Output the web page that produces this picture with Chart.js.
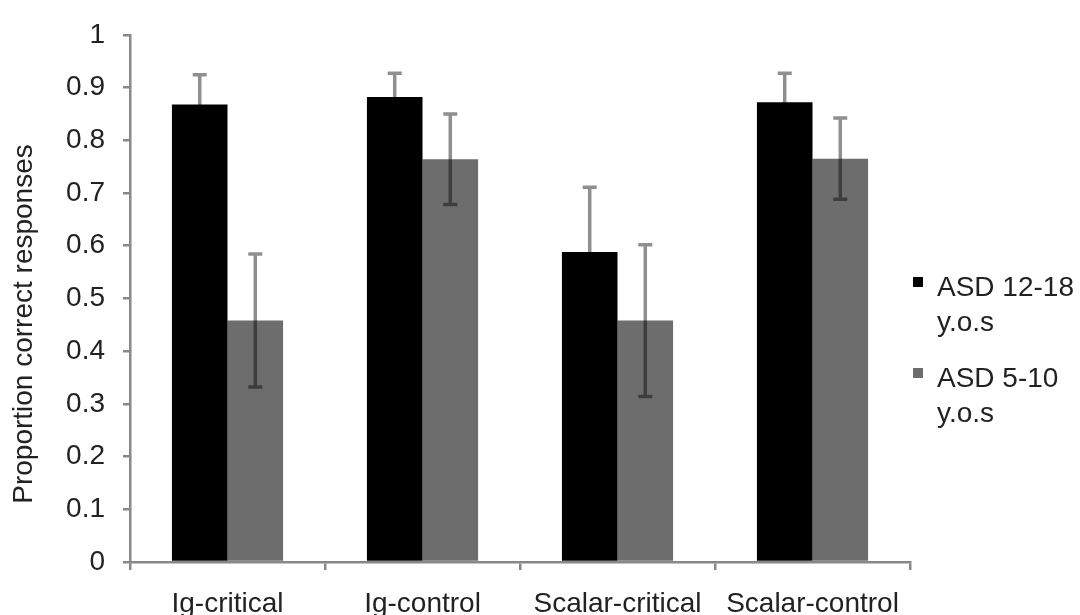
<!DOCTYPE html>
<html>
<head>
<meta charset="utf-8">
<script src="https://cdn.jsdelivr.net/npm/chart.js@4/dist/chart.umd.min.js"></script>
<style>
  html, body { margin: 0; padding: 0; background: #fff; }
  #wrap { width: 1080px; height: 615px; position: relative; }
</style>
</head>
<body>
<div id="wrap"><canvas id="c" width="1080" height="615"></canvas></div>
<script>
const categories = ['Ig-critical', 'Ig-control', 'Scalar-critical', 'Scalar-control'];
const olderLabel = ['ASD 12-18', 'y.o.s'];
const youngerLabel = ['ASD 5-10', 'y.o.s'];
const olderValues = [0.868, 0.882, 0.588, 0.872];
const olderErrors = [0.056, 0.045, 0.123, 0.055];
const youngerValues = [0.458, 0.764, 0.458, 0.765];
const youngerErrors = [0.126, 0.086, 0.144, 0.077];
const yTickLabels = ['0', '0.1', '0.2', '0.3', '0.4', '0.5', '0.6', '0.7', '0.8', '0.9', '1'];
const yTitle = 'Proportion correct responses';

const FONT = '"Liberation Sans", Arial, Helvetica, sans-serif';
const AXIS_COLOR = '#888888';
const TEXT_COLOR = '#222222';

const errorBarPlugin = {
  id: 'errorBars',
  afterDatasetsDraw(chart) {
    const ctx = chart.ctx;
    const yScale = chart.scales.y;
    chart.data.datasets.forEach((ds, di) => {
      const meta = chart.getDatasetMeta(di);
      meta.data.forEach((bar, i) => {
        const v = ds.data[i], e = ds.errors[i];
        const yTop = yScale.getPixelForValue(v + e);
        const yBot = yScale.getPixelForValue(v - e);
        const x = bar.x;
        const half = 7;
        ctx.save();
        ctx.strokeStyle = 'rgba(0,0,0,0.44)';
        ctx.lineWidth = 3.5;
        ctx.beginPath();
        ctx.moveTo(x, yTop);
        ctx.lineTo(x, yBot);
        ctx.moveTo(x - half, yTop);
        ctx.lineTo(x + half, yTop);
        ctx.moveTo(x - half, yBot);
        ctx.lineTo(x + half, yBot);
        ctx.stroke();
        ctx.restore();
      });
    });
  }
};

const sideTextPlugin = {
  id: 'sideText',
  afterDraw(chart) {
    const ctx = chart.ctx;
    ctx.save();
    ctx.font = '28px ' + FONT;
    ctx.fillStyle = TEXT_COLOR;
    ctx.textAlign = 'center';
    ctx.textBaseline = 'middle';
    ctx.translate(24, 324);
    ctx.rotate(-Math.PI / 2);
    ctx.fillText(yTitle, 0, 0);
    ctx.restore();

    ctx.save();
    ctx.font = '28px ' + FONT;
    ctx.textAlign = 'left';
    ctx.textBaseline = 'alphabetic';
    const starts = [296, 387];
    chart.data.datasets.forEach((ds, k) => {
      const base = starts[k];
      ctx.fillStyle = ds.backgroundColor;
      ctx.fillRect(913, base - 19, 10, 10);
      ctx.fillStyle = TEXT_COLOR;
      ds.legendLines.forEach((line, j) => {
        ctx.fillText(line, 937, base + j * 35);
      });
    });
    ctx.restore();
  }
};

new Chart(document.getElementById('c'), {
  type: 'bar',
  data: {
    labels: categories,
    datasets: [
      {
        label: olderLabel.join(' '),
        legendLines: olderLabel,
        data: olderValues,
        errors: olderErrors,
        backgroundColor: '#000000',
        borderWidth: 0,
        barPercentage: 1.0,
        categoryPercentage: 0.57
      },
      {
        label: youngerLabel.join(' '),
        legendLines: youngerLabel,
        data: youngerValues,
        errors: youngerErrors,
        backgroundColor: '#6d6d6d',
        borderWidth: 0,
        barPercentage: 1.0,
        categoryPercentage: 0.57
      }
    ]
  },
  options: {
    responsive: false,
    animation: false,
    devicePixelRatio: 1,
    layout: { padding: { top: 24, right: 170, left: 0, bottom: 0 } },
    plugins: {
      legend: { display: false },
      tooltip: { enabled: false },
      title: { display: false }
    },
    scales: {
      x: {
        offset: true,
        grid: {
          display: true,
          offset: true,
          drawOnChartArea: false,
          drawTicks: true,
          tickLength: 8,
          color: AXIS_COLOR,
          lineWidth: 2.5
        },
        border: { display: true, color: AXIS_COLOR, width: 2.5 },
        ticks: {
          color: TEXT_COLOR,
          font: { family: FONT, size: 28 },
          padding: 17,
          maxRotation: 0,
          autoSkip: false
        },
        afterFit(scale) { scale.height = 53; }
      },
      y: {
        min: 0,
        max: 1,
        ticks: {
          stepSize: 0.1,
          color: TEXT_COLOR,
          font: { family: FONT, size: 28 },
          padding: 18,
          callback: (v, i) => yTickLabels[i]
        },
        grid: {
          display: true,
          drawOnChartArea: false,
          drawTicks: true,
          tickLength: 7,
          color: AXIS_COLOR,
          lineWidth: 2.5
        },
        border: { display: true, color: AXIS_COLOR, width: 2.5 },
        afterFit(scale) { scale.width = 130; }
      }
    }
  },
  plugins: [errorBarPlugin, sideTextPlugin]
});
</script>
</body>
</html>
